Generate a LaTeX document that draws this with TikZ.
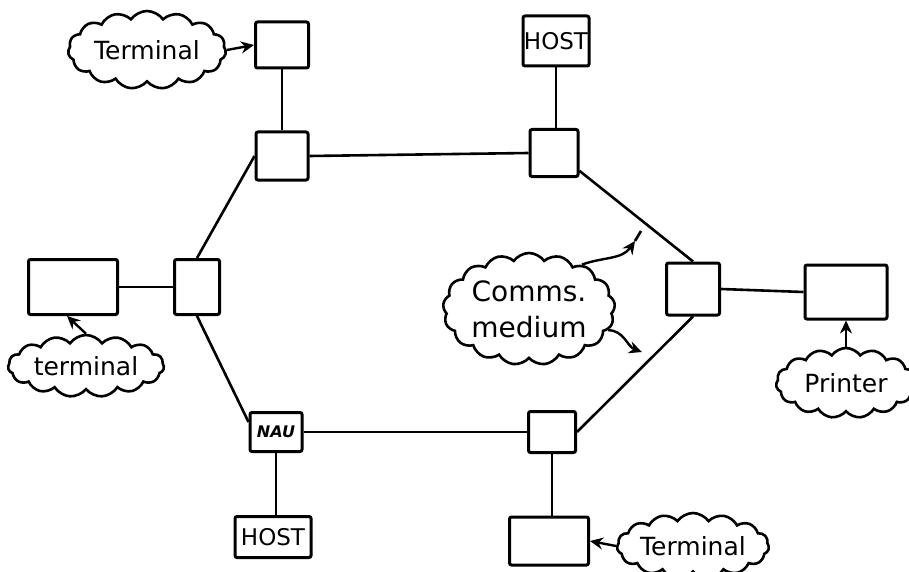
\documentclass[tikz,border=0pt]{standalone}
\usepackage{fontspec}
\setmainfont{DejaVu Sans}
\usetikzlibrary{shapes.symbols,arrows.meta}
\begin{document}
\begin{tikzpicture}[x=1pt,y=-1pt,
  box/.style={draw,line width=3pt,rounded corners=2pt,inner sep=0pt},
  wire/.style={line width=2.6pt},
  bubble/.style={cloud,draw,line width=2.6pt,cloud puffs=15,cloud puff arc=110,
    cloud ignores aspect,inner sep=0pt,font=\fontsize{25}{28}\selectfont},
  pointer/.style={line width=2.4pt,-{Stealth[length=13pt,width=12pt]}}]
\useasboundingbox (0,0) rectangle (909,572);

% ring nodes
\node[box,minimum width=52pt,minimum height=48pt] (A) at (282,156) {};
\node[box,minimum width=48pt,minimum height=47pt] (B) at (554,153) {};
\node[box,minimum width=45pt,minimum height=55pt] (C) at (197,287) {};
\node[box,minimum width=53pt,minimum height=52pt] (D) at (693,289) {};
\node[box,minimum width=52pt,minimum height=39pt,font=\bfseries\itshape\fontsize{16}{18}\selectfont] (E) at (276,432) {NAU};
\node[box,minimum width=47pt,minimum height=41pt] (F) at (552,432) {};

% attached devices
\node[box,minimum width=53pt,minimum height=46pt] (T1) at (282,45) {};
\node[box,minimum width=66pt,minimum height=50pt,font=\fontsize{23}{26}\selectfont] (H1) at (556,41) {HOST};
\node[box,minimum width=89pt,minimum height=55pt] (T2) at (73,287) {};
\node[box,minimum width=82pt,minimum height=54pt] (P) at (846,292) {};
\node[box,minimum width=76pt,minimum height=41pt,font=\fontsize{23}{26}\selectfont] (H2) at (273,537) {HOST};
\node[box,minimum width=79pt,minimum height=48pt] (T3) at (549,541) {};

% ring
\draw[wire] (A.east) -- (B.west);
\draw[wire] (B.-35) -- (D.north);
\draw[wire] (D.south) -- (F.east);
\draw[wire] (F.west) -- (E.east);
\draw[wire] (E.160) -- (C.south);
\draw[wire] (C.north) -- (A.west);

% spurs
\draw[wire] (T1.south) -- (A.north);
\draw[wire] (H1.south) -- (H1.south |- B.north);
\draw[wire] (T2.east) -- (C.west);
\draw[wire] (D.east) -- (P.west);
\draw[wire] (E.south) -- (E.south |- H2.north);
\draw[wire] (F.south) -- (F.south |- T3.north);

% labels
\node[bubble,minimum width=158pt,minimum height=78pt] (L1) at (147,50) {Terminal};
\node[bubble,minimum width=156pt,minimum height=62pt] (L2) at (86,366) {terminal};
\node[bubble,minimum width=172pt,minimum height=112pt,align=center,cloud puffs=17,
  font=\fontsize{28}{36}\selectfont] (L3) at (529,309) {Comms.\\medium};
\node[bubble,minimum width=140pt,minimum height=70pt] (L4) at (846,383) {Printer};
\node[bubble,minimum width=152pt,minimum height=66pt] (L5) at (693,546) {Terminal};

\coordinate (m1) at (635,241);
\coordinate (m1e) at (641,231);
\coordinate (m2) at (642,352);

\draw[pointer] (L1.east) -- (T1.west);
\draw[pointer] (L2.north) -- ([xshift=-6pt]T2.south);
\draw[pointer] (L3.40) to[out=20,in=235] (m1);
\draw[wire] (m1) -- (m1e);
\draw[pointer] (L3.-15) to[out=0,in=160] (m2);
\draw[pointer] (L4.north) -- (P.south);
\draw[pointer] (L5.west) -- (T3.east);
\end{tikzpicture}
\end{document}
